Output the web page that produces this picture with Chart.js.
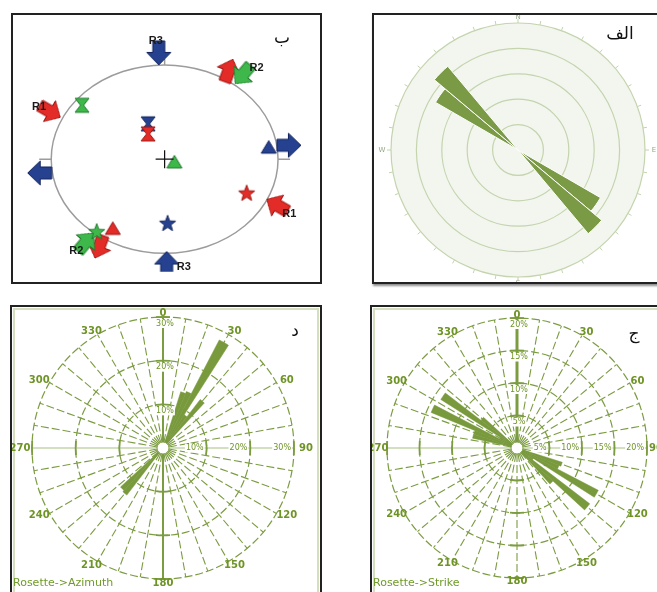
<!DOCTYPE html>
<html>
<head>
<meta charset="utf-8">
<script src="https://cdn.jsdelivr.net/npm/chart.js@4.4.1/dist/chart.umd.min.js"></script>
<style>
html, body { margin: 0; padding: 0; background: #fff; width: 657px; height: 592px; overflow: hidden; position: relative; }
.box { position: absolute; box-sizing: border-box; border: 2px solid #222; background: #fff; }
.frame { position: absolute; left: 1px; top: 1px; right: 1px; bottom: 1px; border: 2px solid #d3dfbd; }
canvas { position: absolute; }
.tag { position: absolute; font-family: 'DejaVu Sans', sans-serif; font-size: 17px; color: #111; line-height: 1; transform: translate(-50%, -50%); white-space: nowrap; }
.cap { position: absolute; font-family: 'DejaVu Sans', sans-serif; font-size: 11px; color: #6f9a28; line-height: 1; white-space: nowrap; }
</style>
</head>
<body>
<div class="box" style="left:11px;top:13px;width:311px;height:271px;"></div>
<div class="box" style="left:372px;top:13px;width:300px;height:271px;box-shadow:1px 2px 2px rgba(0,0,0,.45);"></div>
<div class="box" style="left:10px;top:305px;width:312px;height:300px;"><div class="frame"></div></div>
<div class="box" style="left:370px;top:305px;width:300px;height:300px;"><div class="frame"></div></div>

<canvas id="stereo" width="307" height="267" style="left:13px;top:15px;"></canvas>
<canvas id="alef" width="290" height="267" style="left:374px;top:15px;"></canvas>
<canvas id="azimuth" width="308" height="285" style="left:12px;top:307px;"></canvas>
<canvas id="strike" width="285" height="285" style="left:372px;top:307px;"></canvas>

<div class="tag" style="left:282px;top:37px;">ب</div>
<div class="tag" style="left:620px;top:33px;">الف</div>
<div class="tag" style="left:295px;top:330px;">د</div>
<div class="tag" style="left:634px;top:333px;">ج</div>
<div class="cap" style="left:13px;top:577px;">Rosette-&gt;Azimuth</div>
<div class="cap" style="left:373px;top:577px;">Rosette-&gt;Strike</div>

<script>
(function () {
    'use strict';

    // ---- stereonet (ب): x, y in units of the primitive circle radius ----
    // each solution: [star, triangle, hourglass]
    var R1_X = [0.723, -0.457, -0.146];
    var R1_Y = [-0.366, -0.735, 0.268];
    var R2_X = [-0.599, 0.086, -0.728];
    var R2_Y = [-0.775, -0.029, 0.572];
    var R3_X = [0.026, 0.918, -0.146];
    var R3_Y = [-0.686, 0.127, 0.375];
    var MARKERS = ['star', 'triangle', 'hourglass'];

    // arrows: position + pointing azimuth (deg, clockwise from north)
    var RED_ARROW_X = [-1.011, 0.992, 0.566, -0.578];
    var RED_ARROW_Y = [0.507, -0.49, 0.941, -0.931];
    var RED_ARROW_DIR = [120, 300, 20, 200];
    var GREEN_ARROW_X = [0.69, -0.695];
    var GREEN_ARROW_Y = [0.899, -0.882];
    var GREEN_ARROW_DIR = [220, 40];
    var BLUE_ARROW_X = [-0.051, 0.018, 1.096, -1.101];
    var BLUE_ARROW_Y = [1.127, -1.108, 0.147, -0.147];
    var BLUE_ARROW_DIR = [180, 0, 90, 270];

    var TAG_TEXT = ['R3', 'R3', 'R2', 'R1', 'R1', 'R2'];
    var TAG_X = [-0.078, 0.169, 0.811, -1.107, 1.099, -0.778];
    var TAG_Y = [1.255, -1.147, 0.971, 0.549, -0.578, -0.98];

    // ---- rose الف: 10 degree bins from north, in ring units ----
    var ALEF_VALUES = [
        0, 0, 0, 0, 0, 0, 0, 0, 0, 0, 0, 0,
        3.75, 4.3, 0, 0, 0, 0, 0, 0, 0, 0, 0, 0,
        0, 0, 0, 0, 0, 0, 3.75, 4.3, 0, 0, 0, 0
    ];
    var ALEF_RINGS = [1, 2, 3, 4, 5];
    var COMPASS_LABELS = ['N', 'E', 'S', 'W'];

    // ---- rose د (azimuth): 5 degree bins centred on 0, 5, 10 ... (%) ----
    var AZ_VALUES = [
        0, 0, 0, 0, 13.5, 14, 27.9, 9, 14, 0, 0, 0,       // 0-55
        0, 0, 0, 0, 0, 0, 0, 0, 0, 0, 0, 0,               // 60-115
        0, 0, 0, 0, 0, 0, 0, 0, 0, 0, 0, 0,               // 120-175
        0, 0, 0, 0, 0, 0, 0, 0, 13.6, 13.2, 0, 0,         // 180-235
        0, 0, 0, 0, 0, 0, 0, 0, 0, 0, 0, 0,               // 240-295
        0, 0, 0, 0, 0, 0, 0, 0, 0, 0, 0, 0                // 300-355
    ];
    var AZ_RINGS = [10, 20, 30];

    // ---- rose ج (strike): 5 degree bins centred on 0, 5, 10 ... (%) ----
    var STRIKE_VALUES = [
        0, 0, 0, 0, 0, 0, 0, 0, 0, 0, 0, 0,               // 0-55
        0, 0, 0, 0, 0, 0, 0, 0, 0, 0, 7.3, 7,             // 60-115
        14.1, 3, 14.1, 7.5, 0, 0, 0, 0, 0, 0, 0, 0,       // 120-175
        0, 0, 0, 0, 0, 0, 0, 0, 0, 0, 0, 0,               // 180-235
        0, 0, 0, 0, 0, 0, 0, 0, 0, 7, 7, 14.3,            // 240-295
        3, 13.9, 7, 0, 0, 0, 0, 0, 0, 0, 0, 0             // 300-355
    ];
    var STRIKE_RINGS = [5, 10, 15, 20];

    var ANGLE_LABELS = ['0', '30', '60', '90', '120', '150', '180', '210', '240', '270', '300', '330'];

    var GRID = '#7c9c42';
    var LABEL = '#6f9426';
    var PETAL = '#78993c';
    var COLORS = {
        red: ['#e32b27', '#9e1512'],
        green: ['#3fb84b', '#1f7a2b'],
        blue: ['#25418f', '#13245c']
    };

    function binLabels(n, step) {
        var out = [];
        for (var i = 0; i < n; i++) {
            out.push(String(i * step));
        }
        return out;
    }

    function points(xs, ys) {
        var out = [];
        for (var i = 0; i < xs.length; i++) {
            out.push({ x: xs[i], y: ys[i] });
        }
        return out;
    }

    function glyph(kind, fill, edge) {
        var c = document.createElement('canvas');
        c.width = 28;
        c.height = 28;
        var g = c.getContext('2d');
        g.translate(14, 14);
        g.beginPath();
        if (kind === 'star') {
            for (var i = 0; i < 10; i++) {
                var r = i % 2 ? 3.5 : 8.5;
                var a = -Math.PI / 2 + i * Math.PI / 5;
                g.lineTo(Math.cos(a) * r, Math.sin(a) * r);
            }
            g.closePath();
        } else if (kind === 'triangle') {
            g.moveTo(0, -6.5);
            g.lineTo(7.5, 6);
            g.lineTo(-7.5, 6);
            g.closePath();
        } else if (kind === 'hourglass') {
            g.moveTo(-7, -7);
            g.lineTo(7, -7);
            g.lineTo(1.5, 0);
            g.lineTo(7, 7);
            g.lineTo(-7, 7);
            g.lineTo(-1.5, 0);
            g.closePath();
        } else if (kind === 'arrow') {
            g.moveTo(0, -12);
            g.lineTo(12, 0.5);
            g.lineTo(6, 0.5);
            g.lineTo(6, 12);
            g.lineTo(-6, 12);
            g.lineTo(-6, 0.5);
            g.lineTo(-12, 0.5);
            g.closePath();
        }
        g.fillStyle = fill;
        g.fill();
        g.strokeStyle = edge;
        g.lineWidth = 1;
        g.stroke();
        return c;
    }

    function markerStyles(color) {
        return MARKERS.map(function (m) {
            return glyph(m, COLORS[color][0], COLORS[color][1]);
        });
    }

    var primitive = {
        id: 'primitive',
        beforeDatasetsDraw: function (chart) {
            var x = chart.scales.x, y = chart.scales.y, ctx = chart.ctx;
            var cx = x.getPixelForValue(0), cy = y.getPixelForValue(0);
            var rx = x.getPixelForValue(1) - cx, ry = cy - y.getPixelForValue(1);
            ctx.save();
            ctx.strokeStyle = '#9c9c9c';
            ctx.lineWidth = 1.5;
            ctx.beginPath();
            ctx.ellipse(cx, cy, rx, ry, 0, 0, 2 * Math.PI);
            ctx.stroke();
            ctx.beginPath();
            ctx.moveTo(cx, cy - ry); ctx.lineTo(cx, cy - ry - 6);
            ctx.moveTo(cx, cy + ry); ctx.lineTo(cx, cy + ry + 6);
            ctx.moveTo(cx + rx, cy); ctx.lineTo(cx + rx + 12, cy);
            ctx.moveTo(cx - rx, cy); ctx.lineTo(cx - rx - 12, cy);
            ctx.stroke();
            ctx.restore();
        },
        afterDatasetsDraw: function (chart) {
            var x = chart.scales.x, y = chart.scales.y, ctx = chart.ctx;
            ctx.save();
            ctx.font = 'bold 11px "Liberation Sans", Arial, sans-serif';
            ctx.fillStyle = '#1a1a1a';
            ctx.textAlign = 'center';
            ctx.textBaseline = 'middle';
            for (var i = 0; i < TAG_TEXT.length; i++) {
                ctx.fillText(TAG_TEXT[i], x.getPixelForValue(TAG_X[i]), y.getPixelForValue(TAG_Y[i]));
            }
            ctx.restore();
        }
    };

    var compass = {
        id: 'compass',
        beforeDatasetsDraw: function (chart) {
            var s = chart.scales.r, ctx = chart.ctx;
            var cx = s.xCenter, cy = s.yCenter, R = s.drawingArea;
            ctx.save();
            ctx.fillStyle = '#f3f6ee';
            ctx.beginPath();
            ctx.arc(cx, cy, R, 0, 2 * Math.PI);
            ctx.fill();
            ctx.strokeStyle = '#c4d4ae';
            ctx.lineWidth = 1.2;
            ALEF_RINGS.forEach(function (v) {
                ctx.beginPath();
                ctx.arc(cx, cy, s.getDistanceFromCenterForValue(v), 0, 2 * Math.PI);
                ctx.stroke();
            });
            ctx.lineWidth = 1;
            for (var a = 0; a < 360; a += 10) {
                var t = (a - 90) * Math.PI / 180;
                ctx.beginPath();
                ctx.moveTo(cx + Math.cos(t) * R, cy + Math.sin(t) * R);
                ctx.lineTo(cx + Math.cos(t) * (R + 4), cy + Math.sin(t) * (R + 4));
                ctx.stroke();
            }
            ctx.fillStyle = '#93a986';
            ctx.font = '7px "DejaVu Sans", sans-serif';
            ctx.textAlign = 'center';
            ctx.textBaseline = 'middle';
            for (var k = 0; k < COMPASS_LABELS.length; k++) {
                var b = k * Math.PI / 2;
                ctx.fillText(COMPASS_LABELS[k], cx + Math.sin(b) * (R + 9), cy - Math.cos(b) * (R + 6));
            }
            ctx.restore();
        }
    };

    var roseGrid = {
        id: 'roseGrid',
        beforeDatasetsDraw: function (chart, args, o) {
            var s = chart.scales.r, ctx = chart.ctx;
            var cx = s.xCenter, cy = s.yCenter, R = s.drawingArea;
            ctx.save();
            for (var a = 0; a < 360; a += 10) {
                var t = (a - 90) * Math.PI / 180;
                var c = Math.cos(t), sn = Math.sin(t);
                ctx.strokeStyle = GRID;
                ctx.lineWidth = 1.1;
                ctx.setLineDash([8, 3]);
                if (a === 90 || a === 270) {
                    ctx.strokeStyle = '#d3e0bf';
                    ctx.lineWidth = 2;
                    ctx.setLineDash([]);
                } else if (a === 0 || (a === 180 && o.solidSouth)) {
                    ctx.lineWidth = o.northWidth;
                    ctx.setLineDash([]);
                }
                ctx.beginPath();
                ctx.moveTo(cx + c * o.hole, cy + sn * o.hole);
                ctx.lineTo(cx + c * R, cy + sn * R);
                ctx.stroke();
            }
            ctx.strokeStyle = GRID;
            o.rings.forEach(function (v) {
                var r = s.getDistanceFromCenterForValue(v);
                ctx.lineWidth = 1.2;
                ctx.setLineDash([8, 3]);
                ctx.beginPath();
                ctx.arc(cx, cy, r, 0, 2 * Math.PI);
                ctx.stroke();
                ctx.setLineDash([]);
                ctx.lineWidth = 1.8;
                for (var k = 0; k < 4; k++) {
                    var m = k * Math.PI / 2, h = 7 / r;
                    ctx.beginPath();
                    ctx.arc(cx, cy, r, m - h, m + h);
                    ctx.stroke();
                }
            });
            ctx.restore();
        },
        afterDatasetsDraw: function (chart, args, o) {
            var s = chart.scales.r, ctx = chart.ctx;
            var cx = s.xCenter, cy = s.yCenter, R = s.drawingArea;
            ctx.save();
            ctx.fillStyle = '#fff';
            ctx.strokeStyle = GRID;
            ctx.lineWidth = 1;
            ctx.beginPath();
            ctx.arc(cx, cy, o.hole, 0, 2 * Math.PI);
            ctx.fill();
            ctx.stroke();

            ctx.font = '8px "DejaVu Sans", sans-serif';
            ctx.textBaseline = 'middle';
            o.rings.forEach(function (v) {
                var r = s.getDistanceFromCenterForValue(v);
                var txt = v + '%';
                var w = ctx.measureText(txt).width;
                ctx.fillStyle = '#fff';
                ctx.fillRect(cx + 2 - w / 2 - 1, cy - r + 2, w + 2, 9);
                ctx.fillRect(cx + r - 3 - w - 1, cy - 4.5, w + 2, 9);
                ctx.fillStyle = LABEL;
                ctx.textAlign = 'center';
                ctx.fillText(txt, cx + 2, cy - r + 6.5);
                ctx.textAlign = 'right';
                ctx.fillText(txt, cx + r - 3, cy);
            });

            ctx.font = 'bold 10px "DejaVu Sans", sans-serif';
            ctx.textAlign = 'center';
            ctx.fillStyle = LABEL;
            for (var i = 0; i < ANGLE_LABELS.length; i++) {
                var b = Number(ANGLE_LABELS[i]) * Math.PI / 180;
                ctx.fillText(ANGLE_LABELS[i], cx + Math.sin(b) * (R + o.lx), cy - Math.cos(b) * (R + o.ly));
            }
            ctx.restore();
        }
    };

    function roseChart(id, labels, values, max, rings, padding, extra) {
        return new Chart(document.getElementById(id), {
            type: 'polarArea',
            data: {
                labels: labels,
                datasets: [{
                    data: values,
                    backgroundColor: PETAL,
                    borderColor: PETAL,
                    borderWidth: 0.5
                }]
            },
            options: {
                responsive: false,
                animation: false,
                events: [],
                layout: { padding: padding },
                plugins: {
                    legend: { display: false },
                    tooltip: { enabled: false },
                    roseGrid: {
                        rings: rings,
                        hole: 6,
                        lx: extra.lx,
                        ly: extra.ly,
                        solidSouth: extra.solidSouth,
                        northWidth: extra.northWidth
                    }
                },
                scales: {
                    r: {
                        min: 0,
                        max: max,
                        startAngle: -2.5,
                        ticks: { display: false },
                        grid: { display: false },
                        angleLines: { display: false },
                        pointLabels: { display: false }
                    }
                }
            },
            plugins: [roseGrid]
        });
    }

    function boot() {
        if (typeof Chart === 'undefined') {
            return;
        }

        var arrowRed = glyph('arrow', COLORS.red[0], COLORS.red[1]);
        var arrowGreen = glyph('arrow', COLORS.green[0], COLORS.green[1]);
        var arrowBlue = glyph('arrow', COLORS.blue[0], COLORS.blue[1]);

        new Chart(document.getElementById('stereo'), {
            type: 'scatter',
            data: {
                datasets: [
                    { data: [{ x: 0, y: 0 }], pointStyle: 'cross', pointRadius: 9, borderColor: '#111', borderWidth: 1.2 },
                    { data: points(R1_X, R1_Y), pointStyle: markerStyles('red'), pointRadius: 6 },
                    { data: points(R2_X, R2_Y), pointStyle: markerStyles('green'), pointRadius: 6 },
                    { data: points(R3_X, R3_Y), pointStyle: markerStyles('blue'), pointRadius: 6 },
                    { data: points(GREEN_ARROW_X, GREEN_ARROW_Y), pointStyle: arrowGreen, rotation: GREEN_ARROW_DIR, pointRadius: 8 },
                    { data: points(RED_ARROW_X, RED_ARROW_Y), pointStyle: arrowRed, rotation: RED_ARROW_DIR, pointRadius: 8 },
                    { data: points(BLUE_ARROW_X, BLUE_ARROW_Y), pointStyle: arrowBlue, rotation: BLUE_ARROW_DIR, pointRadius: 8 }
                ]
            },
            options: {
                responsive: false,
                animation: false,
                events: [],
                layout: { padding: 0 },
                plugins: { legend: { display: false }, tooltip: { enabled: false } },
                scales: {
                    x: { type: 'linear', display: false, min: -1.247, max: 1.28 },
                    y: { type: 'linear', display: false, min: -1.196, max: 1.422 }
                }
            },
            plugins: [primitive]
        });

        new Chart(document.getElementById('alef'), {
            type: 'polarArea',
            data: {
                labels: binLabels(36, 10),
                datasets: [{
                    data: ALEF_VALUES,
                    backgroundColor: '#7a9a45',
                    borderColor: '#ffffff',
                    borderWidth: 1
                }]
            },
            options: {
                responsive: false,
                animation: false,
                events: [],
                layout: { padding: { left: 17, top: 8, right: 19, bottom: 5 } },
                plugins: { legend: { display: false }, tooltip: { enabled: false } },
                scales: {
                    r: {
                        min: 0,
                        max: 5,
                        ticks: { display: false },
                        grid: { display: false },
                        angleLines: { display: false },
                        pointLabels: { display: false }
                    }
                }
            },
            plugins: [compass]
        });

        roseChart('azimuth', binLabels(72, 5), AZ_VALUES, 30, AZ_RINGS,
            { left: 20, top: 10, right: 26, bottom: 13 },
            { lx: 12, ly: 4, solidSouth: true, northWidth: 2 });

        roseChart('strike', binLabels(72, 5), STRIKE_VALUES, 20, STRIKE_RINGS,
            { left: 15, top: 11, right: 10, bottom: 14 },
            { lx: 9, ly: 3, solidSouth: false, northWidth: 3 });
    }

    if (document.readyState === 'loading') {
        document.addEventListener('DOMContentLoaded', boot);
    } else {
        boot();
    }
})();
</script>
</body>
</html>
